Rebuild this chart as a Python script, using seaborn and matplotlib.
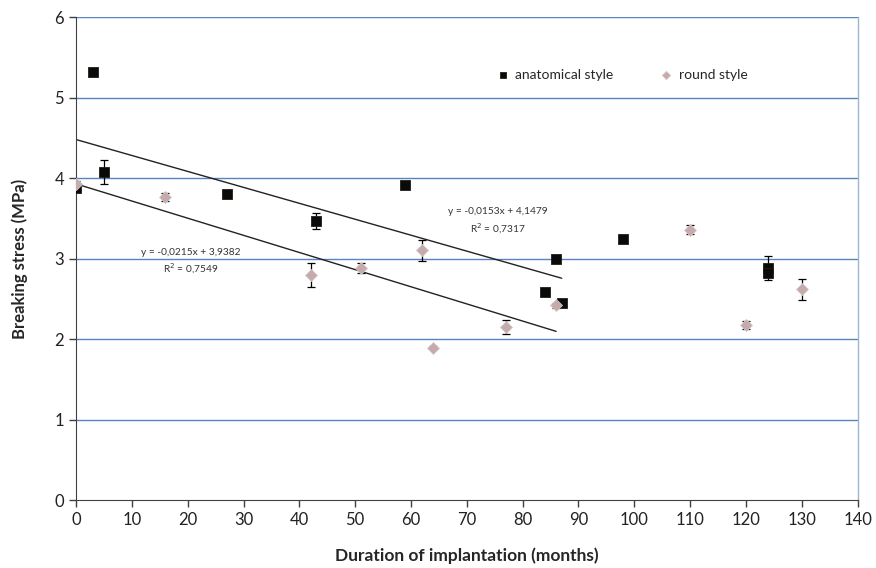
import numpy as np
import pandas as pd
import matplotlib
matplotlib.use("Agg")
import matplotlib.pyplot as plt
import seaborn as sns

# ---- data ----
anat_months = [0, 3, 5, 27, 43, 59, 84, 86, 87, 98, 124, 124]
anat_stress = [3.88, 5.32, 4.08, 3.80, 3.47, 3.91, 2.59, 3.00, 2.45, 3.24, 2.88, 2.82]
anat_err    = [0.04, 0.05, 0.15, 0.05, 0.10, 0.03, 0.05, 0.03, 0.03, 0.05, 0.15, 0.04]

round_months = [0, 16, 42, 51, 62, 64, 77, 86, 110, 120, 130]
round_stress = [3.93, 3.77, 2.80, 2.88, 3.10, 1.89, 2.15, 2.42, 3.36, 2.17, 2.62]
round_err    = [0.03, 0.05, 0.15, 0.06, 0.13, 0.02, 0.09, 0.03, 0.06, 0.05, 0.13]

anat_fit_max = 87
round_fit_max = 86

anat_eq = ["y = -0,0153x + 4,1479", "R$^2$ = 0,7317"]
round_eq = ["y = -0,0215x + 3,9382", "R$^2$ = 0,7549"]

x_ticks = list(range(0, 141, 10))
y_ticks = list(range(0, 7))

anat = pd.DataFrame({"months": anat_months, "stress": anat_stress, "err": anat_err})
rnd = pd.DataFrame({"months": round_months, "stress": round_stress, "err": round_err})

sns.set_style("white")
plt.rcParams["font.family"] = ["Lato", "DejaVu Sans"]

fig = plt.figure(figsize=(8.76, 5.68), dpi=100)
ax = fig.add_axes([0.0868, 0.1197, 0.979 - 0.0868, 0.970 - 0.1197])

grid_col = "#5584bf"
for yv in y_ticks[1:]:
    ax.axhline(yv, color=grid_col, lw=1.0, zorder=0)

sq_col = "#0a0a0a"
dm_col = "#c6abad"

# error bars
ax.errorbar(anat["months"], anat["stress"], yerr=anat["err"], fmt="none",
            ecolor="black", elinewidth=0.9, capsize=3, capthick=0.9, zorder=2)
ax.errorbar(rnd["months"], rnd["stress"], yerr=rnd["err"], fmt="none",
            ecolor="black", elinewidth=0.9, capsize=3, capthick=0.9, zorder=2)

sns.scatterplot(data=anat, x="months", y="stress", marker="s", s=45,
                color=sq_col, edgecolor="#202010", linewidth=0.6, ax=ax,
                zorder=3, label="anatomical style")
sns.scatterplot(data=rnd, x="months", y="stress", marker="D", s=38,
                color=dm_col, edgecolor="#d8c8c8", linewidth=0.5, ax=ax,
                zorder=3, label="round style")

# trend lines
sns.regplot(data=anat[anat["months"] <= anat_fit_max], x="months", y="stress",
            scatter=False, ci=None, truncate=True, ax=ax,
            line_kws={"color": "#222222", "lw": 1.0, "zorder": 1})
sns.regplot(data=rnd[rnd["months"] <= round_fit_max], x="months", y="stress",
            scatter=False, ci=None, truncate=True, ax=ax,
            line_kws={"color": "#222222", "lw": 1.0, "zorder": 1})

ax.text(75.6, 3.58, anat_eq[0], fontsize=7.3, ha="center", va="center", color="#333333")
ax.text(75.6, 3.37, anat_eq[1], fontsize=7.3, ha="center", va="center", color="#333333")
ax.text(20.6, 3.07, round_eq[0], fontsize=7.3, ha="center", va="center", color="#333333")
ax.text(20.6, 2.87, round_eq[1], fontsize=7.3, ha="center", va="center", color="#333333")

ax.set_xlim(0, 140)
ax.set_ylim(0, 6)
ax.set_xticks(x_ticks)
ax.set_yticks(y_ticks)
ax.tick_params(axis="both", direction="out", length=5, width=1, color="#404040",
               labelsize=12, labelcolor="#222222", bottom=True, left=True)

ax.spines["top"].set_visible(False)
ax.spines["right"].set_color("#9fb5d0")
ax.spines["right"].set_linewidth(1.0)
ax.spines["left"].set_color("#404040")
ax.spines["bottom"].set_color("#404040")

ax.set_xlabel("Duration of implantation (months)", fontsize=12.5, fontweight="bold",
              labelpad=14)
ax.set_ylabel("Breaking stress (MPa)", fontsize=12, fontweight="bold", labelpad=19)

leg = ax.legend(loc="upper left", bbox_to_anchor=(0.512, 0.918), ncol=2, frameon=False,
                fontsize=10, handletextpad=-0.1, columnspacing=2.8, markerscale=0.7)

fig.savefig("out.png", dpi=100)
